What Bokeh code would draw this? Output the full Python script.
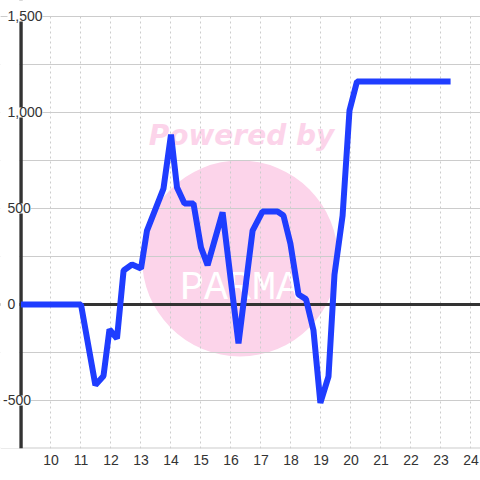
from bokeh.plotting import figure
from bokeh.models import Range1d, FixedTicker, Span, Label, ColumnDataSource, BoxAnnotation
from bokeh.core.properties import value
from bokeh.embed import file_html
from bokeh.resources import INLINE

# ---- data ----
hours = [9, 11, 11.48, 11.75, 11.95, 12.2, 12.42, 12.7, 13, 13.2, 13.75, 14, 14.2,
         14.45, 14.75, 15, 15.22, 15.72, 16.25, 16.72, 17.05, 17.55, 17.75, 17.98,
         18.25, 18.5, 18.75, 18.98, 19.25, 19.45, 19.72, 19.95, 20.2, 23.32]
values = [0, 0, -420, -372, -130, -177, 177, 208, 187, 385, 604, 885, 610,
          526, 526, 297, 205, 480, -203, 385, 484, 484, 463, 318,
          52, 28, -135, -513, -375, 156, 463, 1010, 1161, 1161]

x_ticks = list(range(10, 25))
y_grid = [-750, -500, -250, 0, 250, 500, 750, 1000, 1250, 1500]
y_label_vals = [-500, 0, 500, 1000, 1500]
y_label_txt = ["-500", "0", "500", "1,000", "1,500"]
x_axis_at = 9
y_top = 1500

# watermark (decoration)
wm_center = (16.3, 240)
wm_text_pos = (16.35, 880)
wm_logo_pos = (16.3, 83)

LINE = "#1f3dff"
PINK = "#fcd4ea"
GRID = "#cccccc"
DARK = "#333333"

p = figure(width=480, height=480, output_backend="svg", toolbar_location=None,
           x_range=Range1d(8.317, 24.317), y_range=Range1d(-750, 1583.33),
           min_border_left=0, min_border_right=0, min_border_top=0,
           min_border_bottom=32)
p.outline_line_color = None
p.background_fill_color = "white"
p.border_fill_color = "white"
p.yaxis.visible = False

# watermark
p.scatter(x=[wm_center[0]], y=[wm_center[1]], size=196, color=PINK,
          line_color=None, level="image")
p.text(x=[wm_text_pos[0]], y=[wm_text_pos[1]], text=["Powered by"],
       text_font=value("DejaVu Sans"), text_font_style="bold italic",
       text_font_size="28px", text_color=PINK, text_align="center",
       text_baseline="middle", level="image")
p.text(x=[wm_logo_pos[0]], y=[wm_logo_pos[1]], text=["PARMA"],
       text_font=value("Liberation Mono"), text_font_size="40px",
       text_color="white", text_align="center", text_baseline="middle",
       level="image")

# x axis
p.xaxis.ticker = FixedTicker(ticks=x_ticks)
p.xaxis.axis_line_color = None
p.xaxis.major_tick_line_color = None
p.xaxis.minor_tick_line_color = None
p.xaxis.major_tick_out = 0
p.xaxis.major_tick_in = 0
p.xaxis.major_label_standoff = 6
p.xaxis.major_label_text_font = "Liberation Sans"
p.xaxis.major_label_text_font_size = "14px"
p.xaxis.major_label_text_color = DARK

p.xgrid.grid_line_color = GRID
p.xgrid.grid_line_dash = "2 3"
p.xgrid.grid_line_width = 1
p.ygrid.ticker = FixedTicker(ticks=y_grid)
p.ygrid.grid_line_color = GRID
p.ygrid.grid_line_width = 1

p.add_layout(Span(location=0, dimension="width", line_color=DARK, line_width=3,
                  level="underlay"))
p.add_layout(Span(location=-750, dimension="width", line_color=GRID, line_width=2,
                  level="underlay"))
p.add_layout(Span(location=x_axis_at, dimension="height", line_color=DARK,
                  line_width=3.5, level="underlay"))
# blank strips left of the y axis and above the top gridline
p.add_layout(BoxAnnotation(right=x_axis_at - 0.06, fill_color="white", fill_alpha=1,
                           line_color=None, level="underlay"))
p.add_layout(BoxAnnotation(bottom=y_top + 3, fill_color="white", fill_alpha=1,
                           line_color=None, level="underlay"))
p.add_layout(Span(location=y_top, dimension="width", line_color=GRID, line_width=1,
                  level="underlay"))

src = ColumnDataSource(dict(x=hours, y=values))
p.line("x", "y", source=src, line_color=LINE, line_width=6, line_join="bevel")

for v, t in zip(y_label_vals, y_label_txt):
    off = -13.5 - (4.5 if t.startswith("-") else 0)
    p.add_layout(Label(x=x_axis_at, y=v, text=t, x_offset=off, text_align="left",
                       text_baseline="middle", text_font="Liberation Sans",
                       text_font_size="14px", text_color=DARK,
                       background_fill_color="white", level="overlay"))

open("out.html", "w").write(file_html(p, INLINE))
